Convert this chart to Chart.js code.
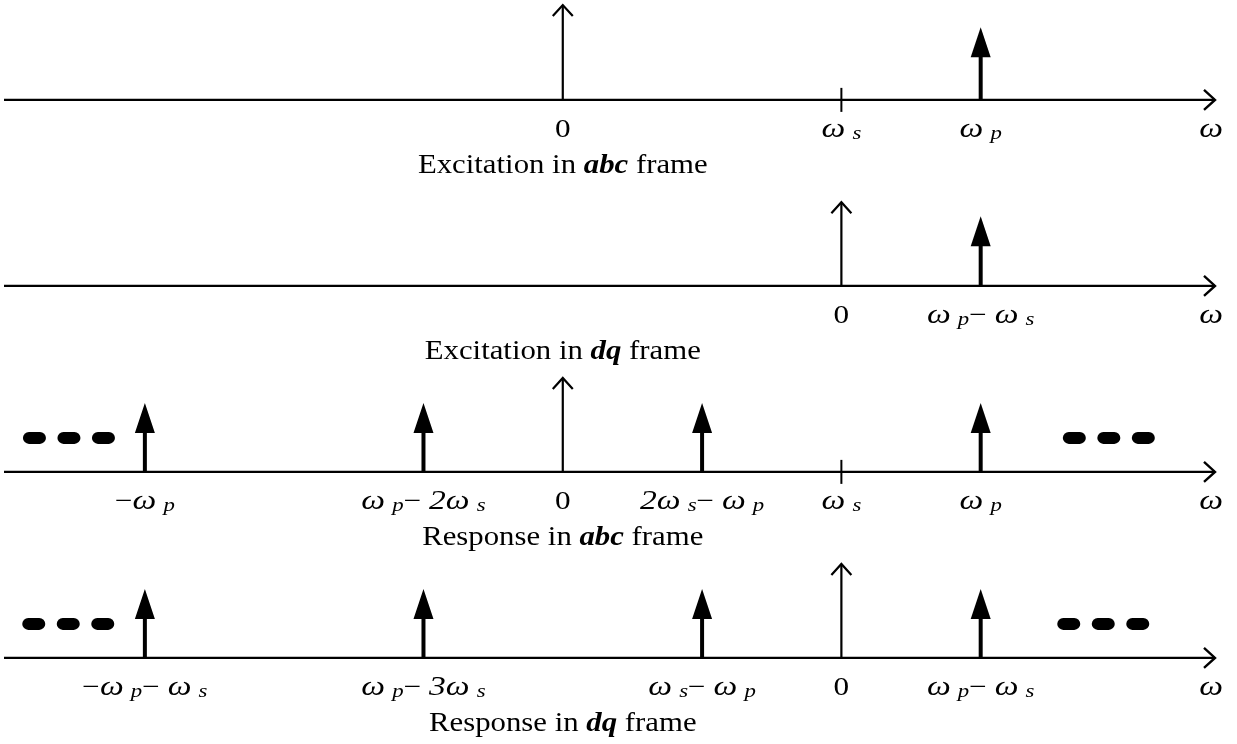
<!DOCTYPE html>
<html>
<head>
<meta charset="utf-8">
<script src="https://cdn.jsdelivr.net/npm/chart.js@4.4.1/dist/chart.umd.min.js"></script>
<style>
  html, body { margin: 0; padding: 0; background: #fff; }
  #wrap { width: 1237px; height: 744px; position: relative; }
</style>
</head>
<body>
<div id="wrap"><canvas id="spectra" width="1237" height="744"></canvas></div>
<script>
// Frequencies are written in a base unit where ωs = 2 and ωp = 3.
// abc-frame panels are plotted on the stationary axis, dq-frame panels on the
// axis rotating at ωs (its origin sits under ωs of the stationary axis).

// Panel 1: excitation in abc frame
const excAbcFreq   = [3];                 // ωp
const excAbcAmp    = [0.39];
const excAbcTicks  = [2];                 // ωs
const excAbcLabelX = [0, 2, 3];
const excAbcLabels = ['0', 'ω_s', 'ω_p'];

// Panel 2: excitation in dq frame
const excDqFreq    = [1];                 // ωp − ωs
const excDqAmp     = [0.375];
const excDqTicks   = [];
const excDqLabelX  = [0, 1];
const excDqLabels  = ['0', 'ω_p− ω_s'];

// Panel 3: response in abc frame
const respAbcFreq   = [-3, -1, 1, 3];     // −ωp, ωp−2ωs, 2ωs−ωp, ωp
const respAbcAmp    = [0.37, 0.37, 0.37, 0.37];
const respAbcTicks  = [2];
const respAbcLabelX = [-3, -1, 0, 1, 2, 3];
const respAbcLabels = ['−ω_p', 'ω_p− 2ω_s', '0', '2ω_s− ω_p', 'ω_s', 'ω_p'];

// Panel 4: response in dq frame
const respDqFreq   = [-5, -3, -1, 1];     // −ωp−ωs, ωp−3ωs, ωs−ωp, ωp−ωs
const respDqAmp    = [0.37, 0.37, 0.37, 0.37];
const respDqTicks  = [];
const respDqLabelX = [-5, -3, -1, 0, 1];
const respDqLabels = ['−ω_p− ω_s', 'ω_p− 3ω_s', 'ω_s− ω_p', '0', 'ω_p− ω_s'];

// Height of the open reference arrow at each frame's origin
const originAmp = [0.51, 0.45, 0.505, 0.505];

// Captions: the part between bars is set in bold italic
const captions = ['Excitation in |abc| frame', 'Excitation in |dq| frame',
                  'Response in |abc| frame', 'Response in |dq| frame'];

const SERIF = '"Liberation Serif", "Times New Roman", serif';

const panels = [
  { axis: 'xabc', base: 3, freq: excAbcFreq,  amp: excAbcAmp,  ticks: excAbcTicks,  lx: excAbcLabelX,  lt: excAbcLabels,  more: null },
  { axis: 'xdq',  base: 2, freq: excDqFreq,   amp: excDqAmp,   ticks: excDqTicks,   lx: excDqLabelX,   lt: excDqLabels,   more: null },
  { axis: 'xabc', base: 1, freq: respAbcFreq, amp: respAbcAmp, ticks: respAbcTicks, lx: respAbcLabelX, lt: respAbcLabels, more: [-3.545, 3.92] },
  { axis: 'xdq',  base: 0, freq: respDqFreq,  amp: respDqAmp,  ticks: respDqTicks,  lx: respDqLabelX,  lt: respDqLabels,  more: [-5.55, 1.88] }
];

// Typesets a small math label: '_' makes the next character a subscript.
function mathRuns(text) {
  const runs = [];
  let sub = false;
  for (const ch of text) {
    if (ch === '_') { sub = true; continue; }
    if (sub) {
      runs.push({ t: ch, font: 'italic 19px ' + SERIF, dy: 2, gap: 6 });
      sub = false;
    } else if (ch === '−' || ch === '0' || ch === ' ') {
      runs.push({ t: ch, font: '26px ' + SERIF, dy: 0, gap: 0 });
    } else {
      runs.push({ t: ch, font: 'italic 28px ' + SERIF, dy: 0, gap: 0 });
    }
  }
  return runs;
}

// Draws text runs centred on cx, widened by sx.
function drawRuns(ctx, runs, cx, y, sx) {
  let w = 0;
  runs.forEach(r => { ctx.font = r.font; r.w = ctx.measureText(r.t).width; w += r.gap + r.w; });
  ctx.save();
  ctx.translate(cx - (w * sx) / 2, y);
  ctx.scale(sx, 1);
  ctx.textAlign = 'left';
  ctx.textBaseline = 'alphabetic';
  let x = 0;
  runs.forEach(r => { x += r.gap; ctx.font = r.font; ctx.fillText(r.t, x, r.dy); x += r.w; });
  ctx.restore();
}

function captionRuns(text) {
  return text.split('|').map((t, i) => ({
    t, font: (i % 2 ? 'italic bold 27px ' : '27px ') + SERIF, dy: 0, gap: 0
  }));
}

function roundRect(ctx, x, y, w, h, r) {
  ctx.beginPath();
  ctx.moveTo(x + r, y);
  ctx.lineTo(x + w - r, y);
  ctx.arc(x + w - r, y + r, r, -Math.PI / 2, Math.PI / 2);
  ctx.lineTo(x + r, y + h);
  ctx.arc(x + r, y + r, r, Math.PI / 2, Math.PI * 1.5);
  ctx.closePath();
  ctx.fill();
}

const spectrumPlugin = {
  id: 'spectrum',
  afterDatasetsDraw(chart) {
    const ctx = chart.ctx;
    const ys = chart.scales.y;
    const area = chart.chartArea;
    ctx.save();
    ctx.strokeStyle = '#000';
    ctx.fillStyle = '#000';
    ctx.lineCap = 'butt';

    panels.forEach((p, i) => {
      const xs = chart.scales[p.axis];
      const y0 = ys.getPixelForValue(p.base);
      const xStart = area.left + 4;
      const xEnd = area.right - 22;

      // frequency axis with open arrowhead
      ctx.lineWidth = 2.4;
      ctx.beginPath();
      ctx.moveTo(xStart, y0);
      ctx.lineTo(xEnd, y0);
      ctx.stroke();
      ctx.beginPath();
      ctx.moveTo(xEnd - 11, y0 - 10);
      ctx.lineTo(xEnd, y0);
      ctx.lineTo(xEnd - 11, y0 + 10);
      ctx.stroke();

      // tick marks
      p.ticks.forEach(f => {
        const x = xs.getPixelForValue(f);
        ctx.lineWidth = 2;
        ctx.beginPath();
        ctx.moveTo(x, y0 - 12);
        ctx.lineTo(x, y0 + 12);
        ctx.stroke();
      });

      // open reference arrow at the frame origin
      const ox = xs.getPixelForValue(0);
      const oy = ys.getPixelForValue(p.base + originAmp[i]);
      ctx.lineWidth = 2.2;
      ctx.beginPath();
      ctx.moveTo(ox, y0);
      ctx.lineTo(ox, oy);
      ctx.stroke();
      ctx.beginPath();
      ctx.moveTo(ox - 10, oy + 11);
      ctx.lineTo(ox, oy);
      ctx.lineTo(ox + 10, oy + 11);
      ctx.stroke();

      // filled arrows for the spectral components
      p.freq.forEach((f, k) => {
        const x = xs.getPixelForValue(f);
        const yt = ys.getPixelForValue(p.base + p.amp[k]);
        ctx.lineWidth = 4;
        ctx.beginPath();
        ctx.moveTo(x, y0);
        ctx.lineTo(x, yt + 28);
        ctx.stroke();
        ctx.beginPath();
        ctx.moveTo(x, yt);
        ctx.lineTo(x + 10, yt + 30);
        ctx.lineTo(x - 10, yt + 30);
        ctx.closePath();
        ctx.fill();
      });

      // continuation dots
      if (p.more) {
        const yc = y0 - 34;
        p.more.forEach(f => {
          const cx = xs.getPixelForValue(f);
          [-1, 0, 1].forEach(d => roundRect(ctx, cx + d * 34.5 - 11.5, yc - 6, 23, 12, 6));
        });
      }

      // frequency labels
      p.lt.forEach((t, k) => {
        drawRuns(ctx, mathRuns(t), xs.getPixelForValue(p.lx[k]), y0 + 37, 1.2);
      });
      drawRuns(ctx, mathRuns('ω'), area.right - 26, y0 + 37, 1.2);

      // caption
      drawRuns(ctx, captionRuns(captions[i]), chart.scales.xabc.getPixelForValue(0), y0 + 73, 1.14);
    });
    ctx.restore();
  }
};

const datasets = panels.map((p, i) => ({
  label: captions[i].replace(/\|/g, ''),
  xAxisID: p.axis,
  yAxisID: 'y',
  data: p.freq.map((f, k) => ({ x: f, y: p.base + p.amp[k] })),
  pointRadius: 0,
  showLine: false
}));

new Chart(document.getElementById('spectra'), {
  type: 'scatter',
  data: { datasets },
  options: {
    responsive: false,
    animation: false,
    devicePixelRatio: 1,
    layout: { padding: 0 },
    plugins: { legend: { display: false }, tooltip: { enabled: false } },
    scales: {
      // stationary axis; 1 unit ≈ 139 px
      xabc: { type: 'linear', position: 'bottom', display: false, min: -4.04, max: 4.84 },
      // rotating (dq) axis, shifted by ωs = 2
      xdq:  { type: 'linear', position: 'bottom', display: false, min: -6.04, max: 2.84 },
      y:    { type: 'linear', display: false, min: -0.463, max: 3.537 }
    }
  },
  plugins: [spectrumPlugin]
});
</script>
</body>
</html>
